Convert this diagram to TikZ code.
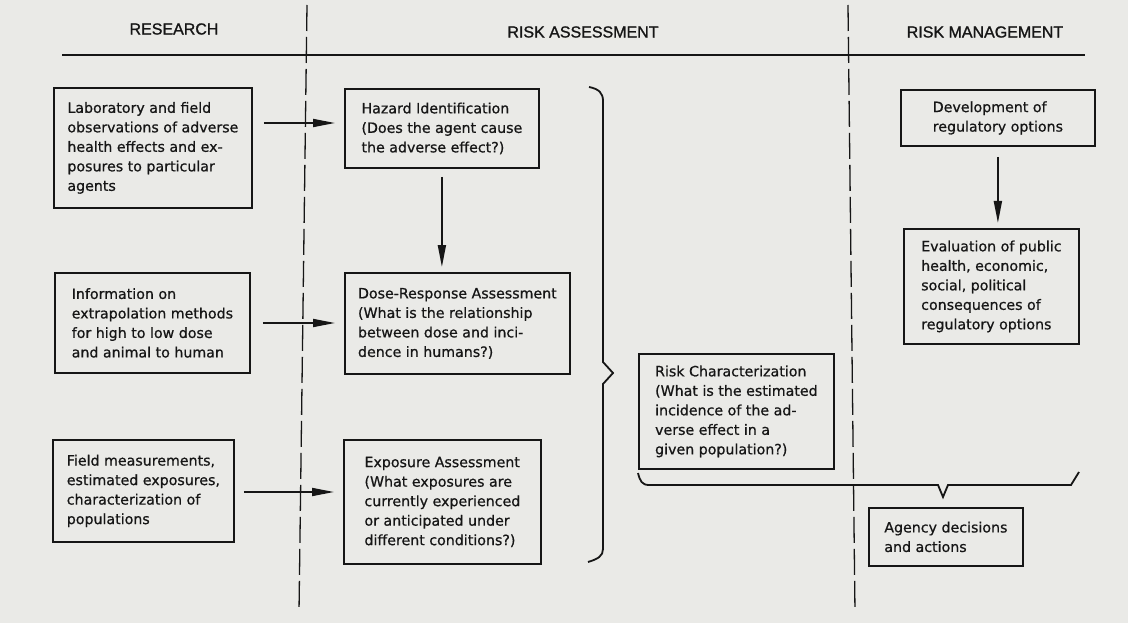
\documentclass[tikz,border=0pt]{standalone}
\usepackage{fontspec}
\setmainfont{DejaVu Sans}
\newfontfamily\bodyfont[FakeBold=0.7]{DejaVu Sans}
\newfontfamily\headfont[FakeBold=1.2]{Liberation Sans}
\usetikzlibrary{arrows.meta}

\definecolor{paper}{RGB}{234,234,231}
\definecolor{ink}{RGB}{22,22,22}

\begin{document}
\begin{tikzpicture}[x=1pt,y=-1pt,
  box/.style={draw=ink, line width=1.8pt, text=ink, anchor=north west, align=left,
    inner ysep=2pt, font=\bodyfont\fontsize{14.2}{19.5}\selectfont},
  head/.style={text=ink, inner sep=0pt, font=\headfont\fontsize{16}{19}\selectfont},
  arr/.style={draw=ink, line width=1.8pt, -{Triangle[length=22pt,width=8pt]}},
  rule/.style={draw=ink, line width=2.4pt},
  divider/.style={draw=ink, line width=1.3pt, dash pattern=on 26pt off 6pt},
  bracepath/.style={draw=ink, line width=1.8pt, line join=miter}]

% page
\fill[paper] (0,0) rectangle (1128,623);
\useasboundingbox (0,0) rectangle (1128,623);

% column headings and rule
\node[head] (hres) at (174,29) {RESEARCH};
\node[head] (hass) at (583,32) {RISK ASSESSMENT};
\node[head] (hman) at (985,32) {RISK MANAGEMENT};
\draw[rule] (62,55) -- (1085,55);

% column dividers
\draw[divider] (307,5) -- (299,612);
\draw[divider] (848,5) -- (855,612);

% research column
\node[box, minimum width=198pt, minimum height=120pt] (lab) at (53,87)
  {Laboratory and field\\observations of adverse\\health effects and ex-\\posures to particular\\agents};
\node[box, minimum width=195pt, minimum height=100pt] (info) at (54,272)
  {Information on\\extrapolation methods\\for high to low dose\\and animal to human};
\node[box, minimum width=181pt, minimum height=102pt] (field) at (52,439)
  {Field measurements,\\estimated exposures,\\characterization of\\populations};

% risk assessment column
\node[box, minimum width=194pt, minimum height=79pt] (haz) at (344,88)
  {Hazard Identification\\(Does the agent cause\\the adverse effect?)};
\node[box, minimum width=225pt, minimum height=101pt] (dose) at (344,272)
  {Dose-Response Assessment\\(What is the relationship\\between dose and inci-\\dence in humans?)};
\node[box, minimum width=197pt, minimum height=124pt] (expo) at (343,439)
  {Exposure Assessment\\(What exposures are\\currently experienced\\or anticipated under\\different conditions?)};
\node[box, minimum width=195pt, minimum height=115pt] (risk) at (638,353)
  {Risk Characterization\\(What is the estimated\\incidence of the ad-\\verse effect in a\\given population?)};

% risk management column
\node[box, minimum width=194pt, minimum height=56pt] (dev) at (900,89)
  {Development of\\regulatory options};
\node[box, minimum width=175pt, minimum height=115pt] (eval) at (903,228)
  {Evaluation of public\\health, economic,\\social, political\\consequences of\\regulatory options};
\node[box, minimum width=154pt, minimum height=58pt] (agency) at (868,507)
  {Agency decisions\\and actions};

% arrow levels
\coordinate (r1) at (0,123);
\coordinate (r2) at (0,323);
\coordinate (r3) at (0,492);

% connectors
\draw[arr, shorten <=11pt, shorten >=9pt] (lab.east |- r1) -- (haz.west |- r1);
\draw[arr, shorten <=12pt, shorten >=9pt] (info.east |- r2) -- (dose.west |- r2);
\draw[arr, shorten <=9pt, shorten >=9pt] (field.east |- r3) -- (expo.west |- r3);
\draw[arr, shorten <=8pt, shorten >=5pt] (haz.south) -- (haz.south |- dose.north);
\draw[arr, shorten <=10pt, shorten >=5pt] (dev.south) -- (dev.south |- eval.north);

% brace gathering the three assessment steps
\draw[bracepath] (589,87) .. controls (599,89) and (603,93) .. (603,101)
  -- (603,362) -- (613,373) -- (603,384) -- (603,549)
  .. controls (603,556) and (598,559) .. (588,562);

% brace joining risk characterization and evaluation into the decision
\draw[bracepath] (638,473) .. controls (640,481) and (642,485) .. (649,485)
  -- (938,485) -- (943,497) -- (948,485) -- (1071,485) -- (1079,472);

\end{tikzpicture}
\end{document}
